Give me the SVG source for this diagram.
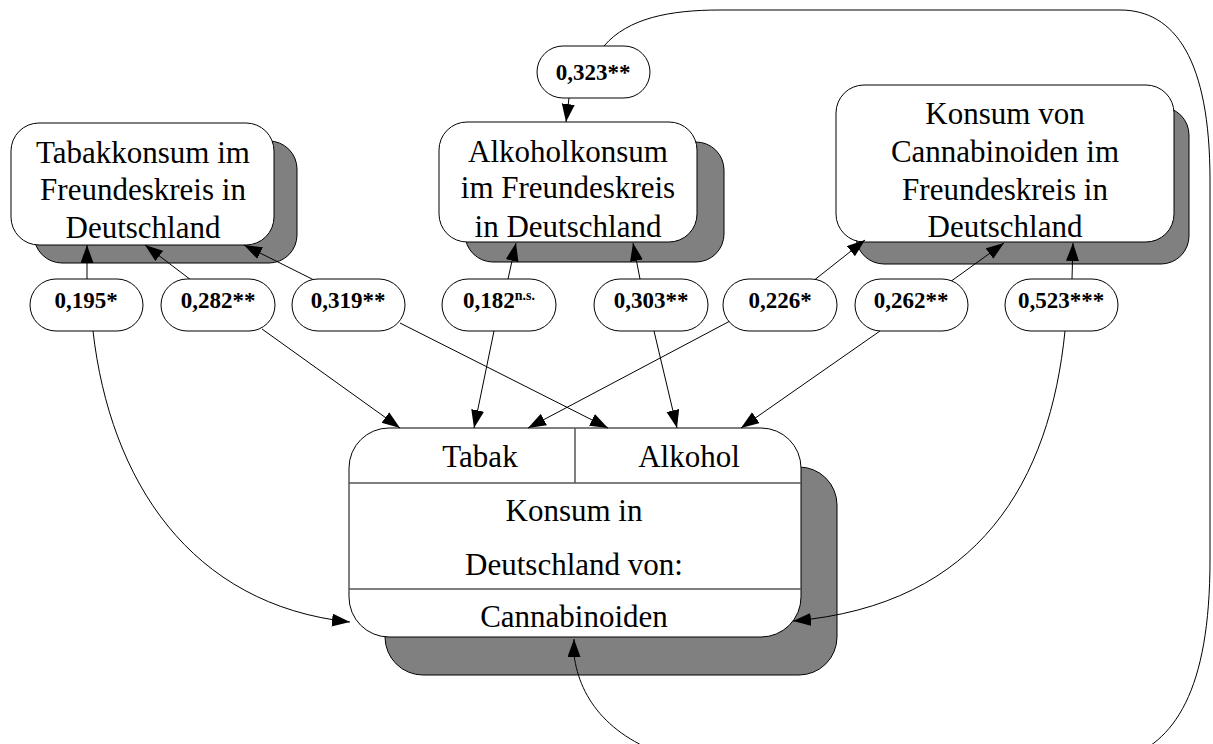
<svg xmlns="http://www.w3.org/2000/svg" width="1213" height="744" viewBox="0 0 1213 744">
<style>
.box{fill:#fff;stroke:#000;stroke-width:1}
.shadow{fill:#808080;stroke:#000;stroke-width:1}
.pill{fill:#fff;stroke:#000;stroke-width:1}
.t{font-family:"Liberation Serif","Times New Roman",serif;font-size:31px;text-anchor:middle;fill:#000}
.l{font-family:"Liberation Serif","Times New Roman",serif;font-size:23px;font-weight:bold;text-anchor:middle;fill:#000}
.sup{font-size:14px}
.div{stroke:#555;stroke-width:1.5;fill:none}
.c{fill:none;stroke:#000;stroke-width:1;marker-end:url(#ah)}
.cn{fill:none;stroke:#000;stroke-width:1}
</style>
<defs>
<marker id="ah" markerUnits="userSpaceOnUse" markerWidth="20" markerHeight="14" refX="18" refY="6.5" orient="auto">
<path d="M0,0 L18,6.5 L0,13 z" fill="#000"/>
</marker>
</defs>
<rect width="1213" height="744" fill="#fff"/>

<g id="node-tabak-freunde">
<rect class="shadow" x="34" y="141" width="263" height="122" rx="28"/>
<rect class="box" x="11" y="123" width="263" height="122" rx="28"/>
<text class="t" x="143" y="163">Tabakkonsum im</text>
<text class="t" x="143" y="200">Freundeskreis in</text>
<text class="t" x="143" y="238">Deutschland</text>
</g>

<g id="node-alkohol-freunde">
<rect class="shadow" x="465" y="142" width="259" height="120" rx="28"/>
<rect class="box" x="439" y="122" width="258" height="120" rx="28"/>
<text class="t" x="568" y="162">Alkoholkonsum</text>
<text class="t" x="568" y="198">im Freundeskreis</text>
<text class="t" x="568" y="237">in Deutschland</text>
</g>

<g id="node-cannabis-freunde">
<rect class="shadow" x="856" y="107" width="333" height="157" rx="28"/>
<rect class="box" x="836" y="85" width="338" height="157" rx="28"/>
<text class="t" x="1005" y="124">Konsum von</text>
<text class="t" x="1005" y="162">Cannabinoiden im</text>
<text class="t" x="1005" y="200">Freundeskreis in</text>
<text class="t" x="1005" y="237">Deutschland</text>
</g>

<g id="node-konsum">
<rect class="shadow" x="385" y="467" width="452" height="208" rx="38"/>
<rect class="box" x="349" y="428" width="452" height="209" rx="40"/>
<line class="div" x1="575" y1="428" x2="575" y2="483"/>
<line class="div" x1="349" y1="483" x2="801" y2="483"/>
<line class="div" x1="349" y1="589" x2="801" y2="589"/>
<text class="t" x="480" y="467">Tabak</text>
<text class="t" x="689" y="467">Alkohol</text>
<text class="t" x="574" y="521">Konsum in</text>
<text class="t" x="574" y="575">Deutschland von:</text>
<text class="t" x="574" y="627">Cannabinoiden</text>
</g>

<g id="connectors">
<path class="cn" d="M604,46 C628,18 670,10 720,10 L1120,10 C1175,10 1210,60 1210,180 L1210,560 C1210,690 1175,744 1120,760 L680,760 C610,740 580,700 574,655"/>
<path class="c" d="M574,655 L574,639"/>
<path class="c" d="M569,98 L566,122"/>
<path class="c" d="M87,279 L87,245"/>
<path class="c" d="M93,331 C110,480 190,605 350,622"/>
<path class="c" d="M191,280 L145,245"/>
<path class="c" d="M262,329 L400,428"/>
<path class="c" d="M314,280 L244,245"/>
<path class="c" d="M400,323 L608,428"/>
<path class="c" d="M508,279 L516,243"/>
<path class="c" d="M494,331 L474,428"/>
<path class="c" d="M640,279 L633,243"/>
<path class="c" d="M654,331 L677,428"/>
<path class="c" d="M803,289 L865,240"/>
<path class="c" d="M730,321 L528,428"/>
<path class="c" d="M950,282 L1004,243"/>
<path class="c" d="M880,331 L741,428"/>
<path class="c" d="M1072,279 L1073,243"/>
<path class="c" d="M1065,331 C1050,480 980,605 793,621"/>
</g>

<g id="label-323"><rect class="pill" x="537" y="46" width="113" height="52" rx="26"/><text class="l" x="593" y="80">0,323**</text></g>
<g id="label-195"><rect class="pill" x="30" y="279" width="113" height="52" rx="26"/><text class="l" x="86" y="308">0,195*</text></g>
<g id="label-282"><rect class="pill" x="161" y="279" width="114" height="52" rx="26"/><text class="l" x="218" y="308">0,282**</text></g>
<g id="label-319"><rect class="pill" x="292" y="279" width="113" height="52" rx="26"/><text class="l" x="348" y="308">0,319**</text></g>
<g id="label-182"><rect class="pill" x="442" y="279" width="114" height="52" rx="26"/><text class="l" x="499" y="308">0,182<tspan class="sup" dy="-8">n.s.</tspan></text></g>
<g id="label-303"><rect class="pill" x="594" y="279" width="114" height="52" rx="26"/><text class="l" x="651" y="308">0,303**</text></g>
<g id="label-226"><rect class="pill" x="723" y="279" width="114" height="52" rx="26"/><text class="l" x="780" y="308">0,226*</text></g>
<g id="label-262"><rect class="pill" x="855" y="279" width="113" height="52" rx="26"/><text class="l" x="911" y="308">0,262**</text></g>
<g id="label-523"><rect class="pill" x="1005" y="279" width="113" height="52" rx="26"/><text class="l" x="1061" y="308">0,523***</text></g>
</svg>
